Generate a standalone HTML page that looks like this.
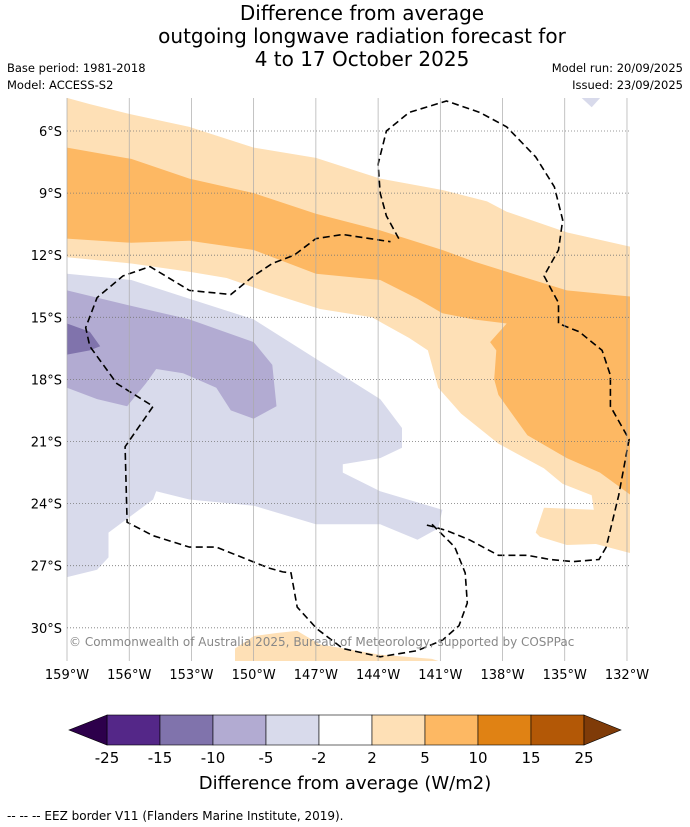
<!DOCTYPE html>
<html><head><meta charset="utf-8"><style>
body{margin:0;background:#fff;font-family:"Liberation Sans","DejaVu Sans",sans-serif;}
svg{display:block}
text{font-family:"DejaVu Sans","Liberation Sans",sans-serif;}
</style></head><body>
<svg id="chart" width="690" height="827" viewBox="0 0 690 827">
<g font-size="20" text-anchor="middle" fill="#000">
<text x="362" y="20">Difference from average</text>
<text x="362" y="43">outgoing longwave radiation forecast for</text>
<text x="362" y="66">4 to 17 October 2025</text>
</g>
<g font-size="11.5" fill="#000">
<text x="7" y="72">Base period: 1981-2018</text>
<text x="7" y="89">Model: ACCESS-S2</text>
<text x="683" y="72" text-anchor="end">Model run: 20/09/2025</text>
<text x="683" y="89" text-anchor="end">Issued: 23/09/2025</text>
</g>
<defs><clipPath id="mapclip"><rect x="67" y="98" width="563" height="563"/></clipPath></defs>
<g id="map" clip-path="url(#mapclip)"></g>
<g id="axes"></g>
<text x="69" y="646" font-size="12" fill="#888">© Commonwealth of Australia 2025, Bureau of Meteorology, supported by COSPPac</text>
<g id="cbar"></g>
<text x="345" y="789" font-size="18" text-anchor="middle">Difference from average (W/m2)</text>
<text x="7" y="820" font-size="12">--  --  -- EEZ border V11 (Flanders Marine Institute, 2019).</text>
</svg>
<script>
// data: [lonW, latS]
const lonTicks=[159,156,153,150,147,144,141,138,135,132];
const latTicks=[6,9,12,15,18,21,24,27,30];
const lightOrange=[[159,4.4],[157.9,4.7],[155.9,5.2],[153.1,5.8],[150.0,6.8],[147.0,7.3],[143.9,8.3],[140.9,8.85],[138.75,9.4],[137.8,9.9],[134.9,10.9],[131.8,11.6],[131.8,26.4],[133.5,25.95],[134.9,26.0],[136.2,25.6],[136.4,25.4],[136.0,24.2],[133.6,24.3],[133.7,23.6],[135.1,23.05],[136.0,22.3],[138.2,21.1],[140.0,19.65],[141.1,18.4],[141.6,16.6],[142.5,16.0],[144.3,15.0],[146.8,14.6],[149.3,13.8],[151.3,13.1],[153.1,12.8],[155.9,12.4],[159,12.1]];
const midOrange=[[159,6.8],[155.9,7.35],[153.1,8.3],[150.0,9.0],[147.0,10.0],[143.9,10.8],[140.9,11.75],[139.4,12.3],[137.8,12.8],[134.9,13.7],[131.8,14.0],[131.8,23.6],[133.3,22.5],[134.9,21.8],[136.8,20.7],[138.2,18.75],[138.4,18.0],[138.3,16.6],[138.6,16.2],[137.8,15.3],[139.4,15.1],[140.9,14.8],[142.1,14.1],[143.9,13.2],[147.0,12.9],[150.0,11.75],[153.1,11.3],[155.9,11.4],[159,11.2]];
const bottomOrange=[[150.9,31.8],[150.9,31.0],[150.0,30.4],[148.9,30.25],[147.9,30.15],[146.8,30.8],[143.9,31.3],[141.4,31.5],[140.5,31.8]];
const lightPurple=[[159,12.9],[155.9,13.2],[153.1,14.1],[150.0,15.1],[147.0,17.0],[143.9,18.95],[142.85,20.35],[142.85,21.3],[143.9,21.8],[145.7,22.1],[145.7,22.5],[143.9,23.4],[140.9,24.3],[141.1,25.2],[142.1,25.75],[143.9,25.0],[147.0,25.0],[150.0,24.1],[153.1,23.8],[154.7,23.4],[154.85,23.8],[157.0,25.4],[157.0,26.6],[157.55,27.2],[159,27.55]];
const smallPurple=[[134.3,4.3],[133.2,4.3],[133.7,4.85]];
const midPurple=[[159,13.7],[155.9,14.45],[153.1,15.1],[150.0,16.2],[149.1,17.3],[148.9,19.3],[150.0,19.9],[151.1,19.5],[151.8,18.4],[153.4,17.7],[154.7,17.5],[155.2,18.2],[156.1,19.3],[157.55,18.95],[159,18.4]];
const darkPurple=[[159,15.3],[157.9,15.7],[157.4,16.4],[157.9,16.6],[159,16.8]];
const eez1=[[143.0,11.2],[143.6,10.1],[143.9,9.0],[144.0,7.6],[143.6,6.0],[142.5,5.1],[140.7,4.55],[139.1,5.1],[137.8,5.8],[136.4,7.25],[135.5,8.7],[135.1,10.3],[135.3,11.75],[136.0,13.0],[135.3,14.3],[135.3,15.3],[134.3,15.7],[133.2,16.6],[132.8,17.8],[132.8,19.3],[131.9,20.9],[132.4,23.6],[133.0,26.1],[133.35,26.7],[134.6,26.8],[135.7,26.7],[136.8,26.5],[138.2,26.5],[139.6,25.75],[140.7,25.3],[141.4,25.1],[141.8,25.0]];
const eez2=[[141.4,25.0],[140.3,26.1],[139.8,27.35],[139.7,28.8],[140.1,29.9],[140.9,30.6],[142.1,31.1],[143.9,31.4],[145.7,31.0],[146.95,30.05],[147.9,29.0],[148.2,27.35],[148.6,27.3],[149.3,27.1],[151.8,26.1],[153.1,26.1],[154.85,25.55],[156.1,24.9],[156.2,21.25],[154.85,19.3],[156.6,18.2],[157.9,16.4],[158.1,15.5],[157.55,14.05],[156.3,13.0],[155.0,12.55],[153.1,13.7],[151.1,13.9],[150.0,13.0],[149.1,12.4],[148.05,12.0],[147.0,11.2],[145.7,11.0],[143.4,11.35]];
const cbarLabels=["-25","-15","-10","-5","-2","2","5","10","15","25"];
const cbarColors=["#542788","#8073ac","#b2abd2","#d8daeb","#ffffff","#fee0b6","#fdb863","#e08214","#b35806"];

const NS="http://www.w3.org/2000/svg";
const X=lw=>67+(159-lw)*20.74;
const Y=ls=>131+(ls-6)*20.7;
const pts=a=>a.map(p=>X(p[0]).toFixed(1)+","+Y(p[1]).toFixed(1)).join(" ");
const map=document.getElementById("map");
function poly(a,fill,name){const e=document.createElementNS(NS,"polygon");e.setAttribute("points",pts(a));e.setAttribute("fill",fill);


map.appendChild(e);}
poly(lightOrange,"#fee0b6","contour-2-to-5");
poly(midOrange,"#fdb863","contour-5-to-10");
poly(bottomOrange,"#fee0b6","contour-2-to-5-south");
poly(lightPurple,"#d8daeb","contour-minus2-to-minus5");
poly(smallPurple,"#d8daeb","contour-minus2-ne");
poly(midPurple,"#b2abd2","contour-minus5-to-minus10");
poly(darkPurple,"#8073ac","contour-minus10-to-minus15");
// grid
const ax=document.getElementById("axes");
lonTicks.forEach(t=>{const l=document.createElementNS(NS,"line");l.setAttribute("x1",X(t));l.setAttribute("x2",X(t));l.setAttribute("y1",98);l.setAttribute("y2",661);l.setAttribute("stroke","#aaa");l.setAttribute("stroke-width","0.7");


ax.appendChild(l);
const tx=document.createElementNS(NS,"text");tx.setAttribute("x",X(t));tx.setAttribute("y",679);tx.setAttribute("text-anchor","middle");tx.setAttribute("font-size","13");tx.textContent=t+"°W";


ax.appendChild(tx);});
latTicks.forEach(t=>{const l=document.createElementNS(NS,"line");l.setAttribute("x1",67);l.setAttribute("x2",630);l.setAttribute("y1",Y(t));l.setAttribute("y2",Y(t));l.setAttribute("stroke","#777");l.setAttribute("stroke-width","0.8");l.setAttribute("stroke-dasharray","1,2");


ax.appendChild(l);
const tx=document.createElementNS(NS,"text");tx.setAttribute("x",62);tx.setAttribute("y",Y(t)+5);tx.setAttribute("text-anchor","end");tx.setAttribute("font-size","13");tx.textContent=t+"°S";


ax.appendChild(tx);});
function dash(a,name){const e=document.createElementNS(NS,"polyline");e.setAttribute("points",pts(a));e.setAttribute("fill","none");e.setAttribute("stroke","#000");e.setAttribute("stroke-width","1.6");e.setAttribute("stroke-dasharray","7,4");


map.appendChild(e);}
dash(eez1,"eez-border-north");
dash(eez2,"eez-border-south");
// colorbar
const cb=document.getElementById("cbar");
const cx0=107,cw=53,cy=715,ch=30;
cbarColors.forEach((c,i)=>{const r=document.createElementNS(NS,"rect");r.setAttribute("x",cx0+i*cw);r.setAttribute("y",cy);r.setAttribute("width",cw);r.setAttribute("height",ch);r.setAttribute("fill",c);r.setAttribute("stroke","#000");r.setAttribute("stroke-width","0.6");


cb.appendChild(r);});
const endL=cx0+cbarColors.length*cw;
const a1=document.createElementNS(NS,"polygon");a1.setAttribute("points",`${cx0},${cy} 69,${cy+ch/2} ${cx0},${cy+ch}`);a1.setAttribute("fill","#2d004b");a1.setAttribute("stroke","#000");a1.setAttribute("stroke-width","0.6");


cb.appendChild(a1);
const a2=document.createElementNS(NS,"polygon");a2.setAttribute("points",`${endL},${cy} ${endL+37},${cy+ch/2} ${endL},${cy+ch}`);a2.setAttribute("fill","#7f3b08");a2.setAttribute("stroke","#000");a2.setAttribute("stroke-width","0.6");


cb.appendChild(a2);
cbarLabels.forEach((s,i)=>{const t=document.createElementNS(NS,"text");t.setAttribute("x",cx0+i*cw);t.setAttribute("y",763);t.setAttribute("text-anchor","middle");t.setAttribute("font-size","15");t.textContent=s;


cb.appendChild(t);});
</script>
</body></html>
